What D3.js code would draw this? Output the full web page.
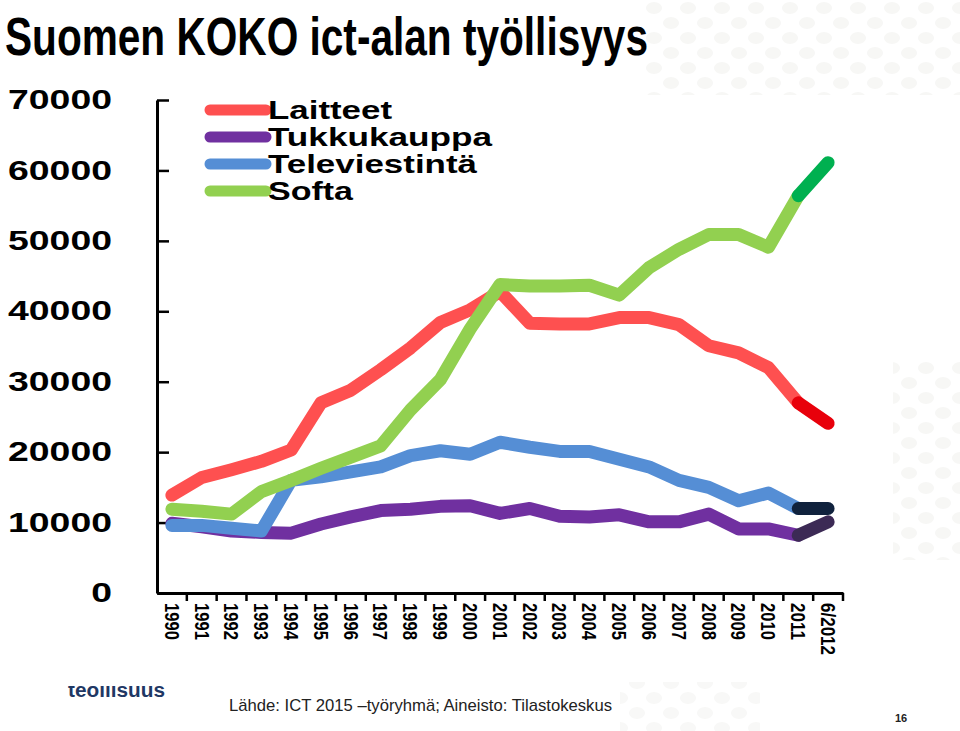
<!DOCTYPE html>
<html>
<head>
<meta charset="utf-8">
<script src="https://cdn.jsdelivr.net/npm/d3@7"></script>
<style>
  body { margin: 0; background: #fff; }
  svg { display: block; }
</style>
</head>
<body>
<script>
// data
var years = ["1990","1991","1992","1993","1994","1995","1996","1997","1998","1999","2000",
             "2001","2002","2003","2004","2005","2006","2007","2008","2009","2010","2011","6/2012"];
var laitteet = [13900,16400,17500,18700,20300,27000,28800,31700,34800,38400,40200,42800,
                38300,38200,38200,39100,39100,38100,35100,34100,32000,27000,24100];
var tukkukauppa = [9900,9400,8800,8600,8500,9800,10800,11700,11900,12300,12400,11300,
                   12000,10900,10800,11100,10100,10100,11200,9100,9100,8200,10100];
var televiestinta = [9600,9600,9200,8800,16000,16500,17200,17900,19500,20200,19700,21400,
                     20700,20100,20100,19000,17900,16000,15000,13100,14200,12000,12000];
var softa = [11900,11600,11200,14400,16000,17700,19300,20900,26000,30300,37500,43800,
             43600,43600,43700,42300,46200,48800,50900,50900,49100,56400,61100];
var yTicks = [0,10000,20000,30000,40000,50000,60000,70000];

var series = [
  {name: "Laitteet", values: laitteet, color: "#fe5050", last: "#e8000b"},
  {name: "Tukkukauppa", values: tukkukauppa, color: "#7030a0", last: "#3c2a55"},
  {name: "Televiestintä", values: televiestinta, color: "#558ed5", last: "#10223d"},
  {name: "Softa", values: softa, color: "#92d050", last: "#00b050"}
];
// draw order seen where the lines cross
var drawOrder = [1, 2, 0, 3];

var W = 960, H = 731;
var svg = d3.select("body").append("svg").attr("width", W).attr("height", H);

// pale dotted background decoration
var defs = svg.append("defs");
var pat = defs.append("pattern").attr("id", "dots").attr("patternUnits", "userSpaceOnUse")
    .attr("width", 34).attr("height", 30);
pat.append("ellipse").attr("cx", 8).attr("cy", 8).attr("rx", 8).attr("ry", 6).attr("fill", "#f3f3f1");
pat.append("ellipse").attr("cx", 25).attr("cy", 23).attr("rx", 8).attr("ry", 6).attr("fill", "#f3f3f1");
svg.append("rect").attr("x", 645).attr("y", 0).attr("width", 315).attr("height", 95).attr("fill", "url(#dots)").attr("opacity", 0.7);
svg.append("rect").attr("x", 893).attr("y", 360).attr("width", 67).attr("height", 200).attr("fill", "url(#dots)").attr("opacity", 0.7);
svg.append("rect").attr("x", 620).attr("y", 682).attr("width", 140).attr("height", 49).attr("fill", "url(#dots)").attr("opacity", 0.6);

// title
svg.append("text")
    .attr("x", 5).attr("y", 55)
    .attr("textLength", 643).attr("lengthAdjust", "spacingAndGlyphs")
    .style("font-family", "'Liberation Sans Narrow', 'Liberation Sans', Arial, sans-serif")
    .style("font-weight", "bold").style("font-size", "54px").style("fill", "#000")
    .text("Suomen KOKO ict-alan työllisyys");

// scales
var x = d3.scaleBand().domain(years).range([157, 843]);
var y = d3.scaleLinear().domain([0, 70000]).range([593, 100]);
var cx = function(d) { return x(d) + x.bandwidth() / 2; };

// y axis
var yAxis = d3.axisLeft(y).tickValues(yTicks).tickFormat(d3.format("d"))
    .tickSizeInner(-12).tickSizeOuter(0).tickPadding(45);
var gy = svg.append("g").attr("transform", "translate(157,0)").call(yAxis);
gy.select(".domain").attr("stroke", "#000").attr("stroke-width", 3);
gy.selectAll(".tick line").attr("stroke", "#000").attr("stroke-width", 2.5);
gy.selectAll(".tick text")
    .style("font-family", "'Liberation Sans', Arial, sans-serif")
    .style("font-weight", "bold").style("font-size", "27px").attr("fill", "#000")
    .attr("textLength", function(d) { return String(d).length * 20.8; })
    .attr("lengthAdjust", "spacingAndGlyphs");

// x axis
var xAxis = d3.axisBottom(x).tickSize(0).tickSizeOuter(0);
var gx = svg.append("g").attr("transform", "translate(0,593)").call(xAxis);
gx.select(".domain").attr("stroke", "#000").attr("stroke-width", 3);
gx.selectAll(".tick text")
    .attr("transform", "rotate(90)")
    .attr("x", 10).attr("y", 0).attr("dy", "0.36em")
    .style("text-anchor", "start")
    .style("font-family", "'Liberation Sans Narrow', 'Liberation Sans', Arial, sans-serif")
    .style("font-weight", "bold").style("font-size", "20px").attr("fill", "#000")
    .attr("textLength", function(d) { return d.length > 4 ? 52 : 37; })
    .attr("lengthAdjust", "spacingAndGlyphs");
gx.selectAll(".boundary").data(years).enter().append("line")
    .attr("class", "boundary")
    .attr("x1", function(d) { return x(d) + x.bandwidth(); })
    .attr("x2", function(d) { return x(d) + x.bandwidth(); })
    .attr("y1", 0).attr("y2", 8)
    .attr("stroke", "#000").attr("stroke-width", 2.5);

// lines
var line = d3.line()
    .x(function(d, i) { return cx(years[i]); })
    .y(function(d) { return y(d); });

var n = years.length;
drawOrder.forEach(function(k) {
  var s = series[k];
  var main = s.values.slice(0, n - 1);
  svg.append("path")
      .attr("fill", "none")
      .attr("stroke", s.color)
      .attr("stroke-width", 13)
      .attr("stroke-linejoin", "round")
      .attr("stroke-linecap", "round")
      .attr("d", line(main));
});
drawOrder.forEach(function(k) {
  var s = series[k];
  var lastLine = d3.line()
      .x(function(d, i) { return cx(years[n - 2 + i]); })
      .y(function(d) { return y(d); });
  svg.append("path")
      .attr("fill", "none")
      .attr("stroke", s.last)
      .attr("stroke-width", 13)
      .attr("stroke-linecap", "round")
      .attr("d", lastLine(s.values.slice(n - 2)));
});

// legend
var legendW = [124, 224, 209, 85];
var leg = svg.selectAll(".legend").data(series).enter().append("g")
    .attr("class", "legend")
    .attr("transform", function(d, i) { return "translate(0," + (110 + i * 27) + ")"; });
leg.append("line")
    .attr("x1", 210).attr("x2", 266).attr("y1", 0).attr("y2", 0)
    .attr("stroke", function(d) { return d.color; })
    .attr("stroke-width", 11).attr("stroke-linecap", "round");
leg.append("text")
    .attr("x", 268).attr("y", 9)
    .attr("textLength", function(d, i) { return legendW[i]; })
    .attr("lengthAdjust", "spacingAndGlyphs")
    .style("font-family", "'Liberation Sans', Arial, sans-serif")
    .style("font-weight", "bold").style("font-size", "25px").style("fill", "#000")
    .text(function(d) { return d.name; });

// footer
svg.append("clipPath").attr("id", "logoClip").append("rect")
    .attr("x", 60).attr("y", 686).attr("width", 120).attr("height", 20);
svg.append("text")
    .attr("x", 68).attr("y", 697)
    .attr("clip-path", "url(#logoClip)")
    .attr("textLength", 97).attr("lengthAdjust", "spacingAndGlyphs")
    .style("font-family", "'Liberation Sans', Arial, sans-serif")
    .style("font-weight", "bold").style("font-size", "20px").style("fill", "#1f3864")
    .text("teollisuus");
svg.append("text")
    .attr("x", 229).attr("y", 711)
    .attr("textLength", 383).attr("lengthAdjust", "spacingAndGlyphs")
    .style("font-family", "'Liberation Sans Narrow', 'Liberation Sans', Arial, sans-serif")
    .style("font-size", "17px").style("fill", "#222")
    .text("Lähde: ICT 2015 –työryhmä; Aineisto: Tilastokeskus");
svg.append("text")
    .attr("x", 901).attr("y", 722)
    .attr("text-anchor", "middle")
    .style("font-family", "'Liberation Sans Narrow', 'Liberation Sans', Arial, sans-serif")
    .style("font-weight", "bold").style("font-size", "11px").style("fill", "#222")
    .text("16");
</script>
</body>
</html>
